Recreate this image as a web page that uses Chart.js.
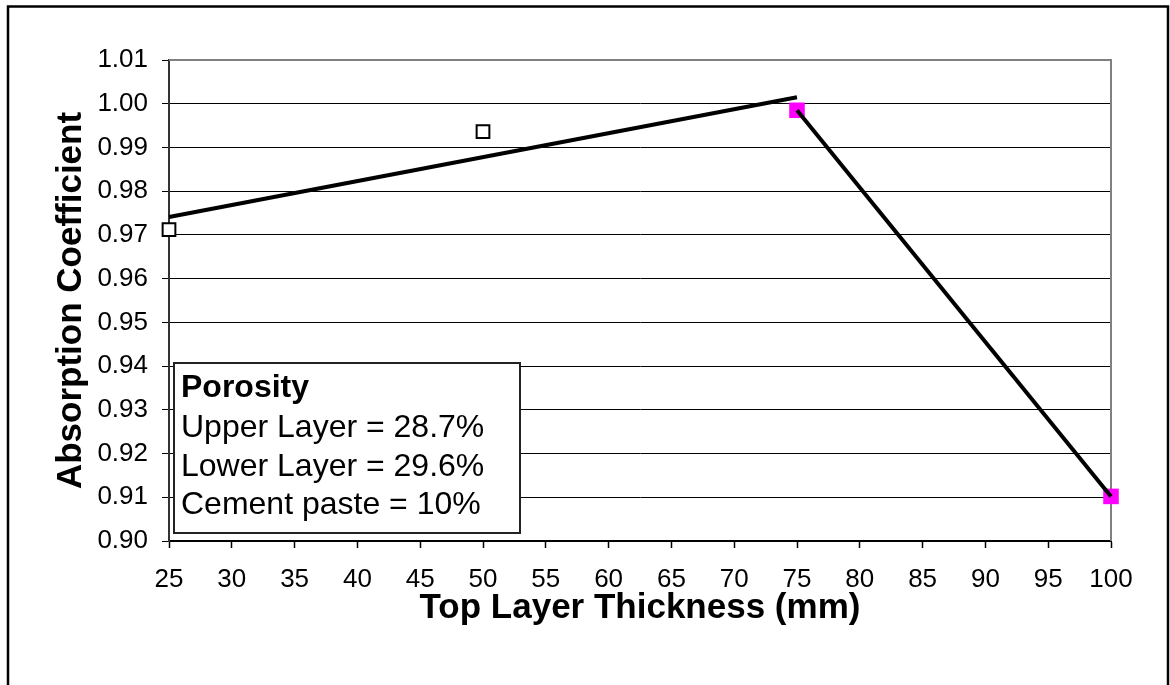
<!DOCTYPE html>
<html>
<head>
<meta charset="utf-8">
<script src="https://cdn.jsdelivr.net/npm/chart.js@4"></script>
<style>
  html, body { margin: 0; padding: 0; background: #fff; }
  canvas { display: block; }
</style>
</head>
<body>
<canvas id="AbsorptionChart" width="1170" height="685"></canvas>
<script>
(function () {
  "use strict";

  // Data
  const measuredX   = [25, 50];
  const measuredY   = [0.9712, 0.9936];
  const highlightX  = [75, 100];
  const highlightY  = [0.9985, 0.9102];
  const trendX      = [25, 75];
  const trendY      = [0.9741, 1.0015];
  const xTicks      = [25, 100, 5];
  const yTicks      = [0.90, 1.01, 0.01];
  const notes       = ['Porosity', 'Upper Layer = 28.7%', 'Lower Layer = 29.6%', 'Cement paste = 10%'];

  const black   = '#000000';
  const magenta = '#FF00FF';
  const gray    = '#808080';
  const font    = "'Liberation Sans', Arial, sans-serif";

  function pts(xs, ys) {
    return xs.map(function (x, i) { return { x: x, y: ys[i] }; });
  }

  // outer frame + top/right plot border + porosity box
  const decor = {
    id: 'decor',
    beforeDatasetsDraw: function (chart) {
      const ctx = chart.ctx, a = chart.chartArea;
      ctx.save();
      ctx.strokeStyle = gray;
      ctx.lineWidth = 2;
      ctx.beginPath();
      ctx.moveTo(a.left, a.top);
      ctx.lineTo(a.right, a.top);
      ctx.lineTo(a.right, a.bottom);
      ctx.stroke();
      ctx.restore();
    },
    afterDraw: function (chart) {
      const ctx = chart.ctx;
      ctx.save();
      ctx.strokeStyle = black;
      ctx.lineWidth = 2.5;
      ctx.strokeRect(8, 6.5, 1160, 720);

      // porosity note
      ctx.fillStyle = '#fff';
      ctx.fillRect(174, 363, 346, 170);
      ctx.lineWidth = 2;
      ctx.strokeStyle = '#222';
      ctx.strokeRect(174, 363, 346, 170);
      ctx.fillStyle = black;
      ctx.textAlign = 'left';
      ctx.textBaseline = 'alphabetic';
      const base = [397, 437, 476, 514];
      notes.forEach(function (t, i) {
        ctx.font = (i === 0 ? 'bold ' : '') + '32px ' + font;
        ctx.fillText(t, 181, base[i]);
      });
      ctx.restore();
    }
  };

  Chart.defaults.font.family = font;
  Chart.defaults.color = black;

  const ctx = document.getElementById('AbsorptionChart').getContext('2d');
  new Chart(ctx, {
    type: 'scatter',
    data: {
      datasets: [{
        label: 'Trend',
        data: pts(trendX, trendY),
        showLine: true,
        borderColor: black,
        borderWidth: 4,
        pointRadius: 0,
        clip: false,
        order: 1
      }, {
        label: 'Line',
        data: pts(highlightX, highlightY),
        showLine: true,
        borderColor: black,
        borderWidth: 4,
        pointRadius: 0,
        clip: false,
        order: 2
      }, {
        label: 'Highlight',
        data: pts(highlightX, highlightY),
        pointStyle: 'rect',
        pointRadius: 11,
        pointBackgroundColor: magenta,
        pointBorderColor: magenta,
        pointBorderWidth: 0,
        clip: false,
        order: 3
      }, {
        label: 'Measured',
        data: pts(measuredX, measuredY),
        pointStyle: 'rect',
        pointRadius: 9,
        pointBackgroundColor: '#fff',
        pointBorderColor: black,
        pointBorderWidth: 2,
        clip: false,
        order: 4
      }]
    },
    options: {
      responsive: false,
      animation: false,
      layout: { padding: { left: 0, top: 60, right: 59, bottom: 0 } },
      scales: {
        x: {
          type: 'linear',
          min: xTicks[0],
          max: xTicks[1],
          ticks: {
            stepSize: xTicks[2],
            padding: 16,
            font: { size: 26 },
            color: black
          },
          grid: {
            drawOnChartArea: false,
            tickLength: 7,
            tickColor: black,
            tickWidth: 1.5
          },
          border: { color: black, width: 2 },
          title: {
            display: true,
            text: 'Top Layer Thickness (mm)',
            font: { size: 35, weight: 'bold' },
            color: black,
            padding: { top: 0, bottom: 56 }
          },
          afterFit: function (s) { s.height = 144; }
        },
        y: {
          min: yTicks[0],
          max: yTicks[1],
          ticks: {
            stepSize: yTicks[2],
            padding: 14,
            font: { size: 26 },
            color: black,
            callback: function (v) { return Number(v).toFixed(2); }
          },
          grid: {
            color: black,
            lineWidth: 1,
            tickLength: 7,
            tickColor: black
          },
          border: { color: '#333', width: 2 },
          title: {
            display: true,
            text: 'Absorption Coefficient',
            font: { size: 35, weight: 'bold' },
            color: black,
            padding: { top: 50, bottom: 0 }
          },
          afterFit: function (s) { s.width = 169; }
        }
      },
      plugins: {
        legend: { display: false },
        tooltip: { enabled: false }
      }
    },
    plugins: [decor]
  });
})();
</script>
</body>
</html>
